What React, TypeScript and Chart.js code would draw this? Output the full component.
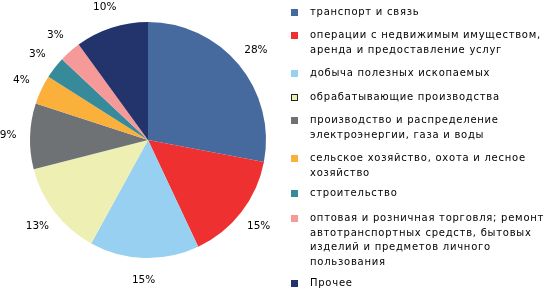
import React, { useEffect, useRef } from "react";
import { Chart, registerables } from "chart.js";

Chart.register(...registerables);

const categories = [
  "транспорт и связь",
  "операции с недвижимым имуществом,\nаренда и предоставление услуг",
  "добыча полезных ископаемых",
  "обрабатывающие производства",
  "производство и распределение\nэлектроэнергии, газа и воды",
  "сельское хозяйство, охота и лесное\nхозяйство",
  "строительство",
  "оптовая и розничная торговля; ремонт\nавтотранспортных средств, бытовых\nизделий и предметов личного\nпользования",
  "Прочее",
];
const values = [28, 15, 15, 13, 9, 4, 3, 3, 10];
const colors = [
  "#476a9e",
  "#ee3030",
  "#98d0f1",
  "#eeefb2",
  "#6f7275",
  "#fbb03b",
  "#368a9a",
  "#f59a98",
  "#23336b",
];

const LEGEND_TOPS = [5, 28, 66, 90, 113, 151, 186, 211, 276];

const labelPlugin = {
  id: "outerLabels",
  afterDatasetsDraw(chart: any) {
    const ctx = chart.ctx;
    const meta = chart.getDatasetMeta(0);
    const data = chart.data.datasets[0].data as number[];
    const total = data.reduce((a, b) => a + b, 0);
    ctx.save();
    ctx.font = "10.5px 'DejaVu Sans'";
    ctx.fillStyle = "#000";
    ctx.textAlign = "center";
    ctx.textBaseline = "middle";
    meta.data.forEach((arc: any, i: number) => {
      const mid = (arc.startAngle + arc.endAngle) / 2;
      const r = arc.outerRadius + 22;
      const x = arc.x + Math.cos(mid) * r;
      const y = arc.y + Math.sin(mid) * r;
      const pct = Math.round((data[i] / total) * 100) + "%";
      ctx.fillText(pct, x, y);
    });
    ctx.restore();
  },
};

export default function App() {
  const ref = useRef<HTMLCanvasElement>(null);
  useEffect(() => {
    if (!ref.current) return;
    const chart = new Chart(ref.current, {
      type: "pie",
      data: {
        labels: categories,
        datasets: [
          {
            data: values,
            backgroundColor: colors,
            borderWidth: 0,
          },
        ],
      },
      options: {
        responsive: false,
        animation: false,
        layout: { padding: { left: 30, right: 14, top: 22, bottom: 31 } },
        plugins: {
          legend: { display: false },
          tooltip: { enabled: false },
        },
      },
      plugins: [labelPlugin],
    });
    return () => chart.destroy();
  }, []);

  return (
    <div
      style={{
        position: "fixed",
        left: 0,
        top: 0,
        width: 550,
        height: 289,
        background: "#fff",
        fontFamily: "'DejaVu Sans', Verdana, sans-serif",
        fontSize: 10,
        color: "#000",
      }}
    >
      <canvas ref={ref} width={280} height={289} style={{ position: "absolute", left: 0, top: 0 }} />
      {categories.map((c, i) => (
        <div key={i} style={{ position: "absolute", left: 291, top: LEGEND_TOPS[i], width: 259 }}>
          <div
            style={{
              position: "absolute",
              left: 0,
              top: 4,
              width: i === 3 ? 5 : 7,
              height: i === 3 ? 5 : 7,
              background: colors[i],
              border: i === 3 ? "1px solid #222" : "none",
            }}
          />
          <div
            style={{
              position: "absolute",
              left: 19,
              top: 0,
              whiteSpace: "pre",
              lineHeight: "14.5px",
              letterSpacing: "0.75px",
            }}
          >
            {c}
          </div>
        </div>
      ))}
    </div>
  );
}
